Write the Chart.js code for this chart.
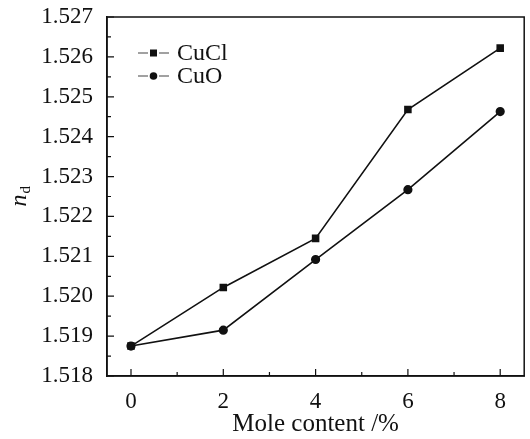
<!DOCTYPE html>
<html>
<head>
<meta charset="utf-8">
<script src="https://cdn.jsdelivr.net/npm/chart.js@4/dist/chart.umd.min.js"></script>
<style>
  html, body { margin: 0; padding: 0; background: #fff; }
  #wrap { width: 530px; height: 439px; }
</style>
</head>
<body>
<div id="wrap"><canvas id="nd"></canvas></div>
<script>
// mole content (%) and refractive index n_d
const molePct = [0, 2, 4, 6, 8];
const cuclNd = [1.51875, 1.52022, 1.52145, 1.52468, 1.52622];
const cuoNd = [1.51875, 1.51915, 1.52092, 1.52267, 1.52463];
const xMajor = [0, 2, 4, 6, 8];
const xMinor = [1, 3, 5, 7];

const FONT = '"Liberation Serif", "Times New Roman", serif';
const INK = '#111';

// inward ticks + frame around the plot
const framePlugin = {
    id: 'frame',
    afterDraw(chart) {
        const { ctx, chartArea: a, scales } = chart;
        ctx.save();
        ctx.strokeStyle = INK;
        ctx.lineWidth = 1.5;
        ctx.strokeRect(a.left, a.top, a.right - a.left, a.bottom - a.top);

        ctx.lineWidth = 1.2;
        ctx.beginPath();
        xMajor.forEach(v => {
            const px = scales.x.getPixelForValue(v);
            ctx.moveTo(px, a.bottom); ctx.lineTo(px, a.bottom - 7);
        });
        xMinor.forEach(v => {
            const px = scales.x.getPixelForValue(v);
            ctx.moveTo(px, a.bottom); ctx.lineTo(px, a.bottom - 4);
        });
        const yt = scales.y.ticks.map(t => t.value);
        yt.forEach((v, i) => {
            const py = scales.y.getPixelForValue(v);
            ctx.moveTo(a.left, py); ctx.lineTo(a.left + 7, py);
            if (i < yt.length - 1) {
                const pm = scales.y.getPixelForValue((v + yt[i + 1]) / 2);
                ctx.moveTo(a.left, pm); ctx.lineTo(a.left + 4, pm);
            }
        });
        ctx.stroke();

        // y title: italic n with subscript d
        ctx.translate(20, (a.top + a.bottom) / 2);
        ctx.rotate(-Math.PI / 2);
        ctx.fillStyle = INK;
        ctx.textBaseline = 'middle';
        ctx.font = 'italic 24px ' + FONT;
        const w = ctx.measureText('n').width;
        ctx.fillText('n', -10, 0);
        ctx.font = '15px ' + FONT;
        ctx.fillText('d', -10 + w + 1, 6);

        // legend in the upper left
        chart.data.datasets.forEach((ds, i) => {
            const y = a.top + 36 + i * 23;
            const x0 = a.left + 31;
            ctx.setTransform(1, 0, 0, 1, 0, 0);
            ctx.strokeStyle = '#444';
            ctx.lineWidth = 1.2;
            ctx.beginPath();
            ctx.moveTo(x0, y); ctx.lineTo(x0 + 10, y);
            ctx.moveTo(x0 + 21, y); ctx.lineTo(x0 + 31, y);
            ctx.stroke();
            ctx.fillStyle = INK;
            if (ds.pointStyle === 'rect') {
                ctx.fillRect(x0 + 12, y - 3.5, 7, 7);
            } else {
                ctx.beginPath(); ctx.arc(x0 + 15.5, y, 3.8, 0, Math.PI * 2); ctx.fill();
            }
            ctx.font = '24px ' + FONT;
            ctx.textBaseline = 'middle';
            ctx.fillText(ds.label, x0 + 39, y + 1);
        });
        ctx.restore();
    }
};

new Chart(document.getElementById('nd'), {
    type: 'line',
    data: {
        datasets: [
            {
                label: 'CuCl',
                data: molePct.map((x, i) => ({ x, y: cuclNd[i] })),
                borderColor: INK, backgroundColor: INK,
                borderWidth: 1.6, pointStyle: 'rect', pointRadius: 4.2,
                tension: 0
            },
            {
                label: 'CuO',
                data: molePct.map((x, i) => ({ x, y: cuoNd[i] })),
                borderColor: INK, backgroundColor: INK,
                borderWidth: 1.6, pointStyle: 'circle', pointRadius: 3.8,
                tension: 0
            }
        ]
    },
    options: {
        responsive: true,
        maintainAspectRatio: false,
        animation: false,
        layout: { padding: { top: 17, right: 2, left: 0, bottom: 0 } },
        plugins: { legend: { display: false }, tooltip: { enabled: false } },
        scales: {
            x: {
                type: 'linear', min: -0.52, max: 8.52,
                afterBuildTicks: s => { s.ticks = xMajor.map(v => ({ value: v })); },
                afterFit: s => { s.height = 63; s.paddingLeft = 0; s.paddingRight = 0; },
                grid: { display: false, drawTicks: false },
                border: { display: true, color: INK, width: 1.5 },
                ticks: { padding: 12, color: INK, font: { family: FONT, size: 23 } },
                title: { display: true, text: 'Mole content /%', color: INK,
                         font: { family: FONT, size: 25 }, padding: { top: 0, bottom: 0 } }
            },
            y: {
                min: 1.518, max: 1.527,
                afterFit: s => { s.width = 107; s.paddingTop = 0; s.paddingBottom = 0; },
                grid: { display: false, drawTicks: false },
                border: { display: true, color: INK, width: 1.5 },
                ticks: { stepSize: 0.001, padding: 14, color: INK,
                         font: { family: FONT, size: 23 },
                         callback: v => v.toFixed(3) }
            }
        }
    },
    plugins: [framePlugin]
});
</script>
</body>
</html>
